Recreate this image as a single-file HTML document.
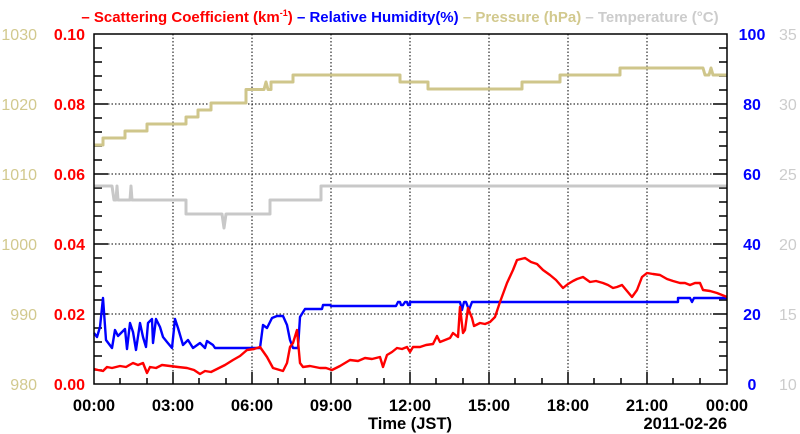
<!DOCTYPE html>
<html><head><meta charset="utf-8"><style>
html,body{margin:0;padding:0;background:#fff;}
svg{display:block;font-family:"Liberation Sans",sans-serif;}
</style></head><body>
<svg width="800" height="434" viewBox="0 0 800 434" xmlns="http://www.w3.org/2000/svg">
<rect width="800" height="434" fill="#fff"/>
<text x="400" y="22" text-anchor="middle" font-size="15" font-weight="bold"><tspan fill="#f00">– Scattering Coefficient (km<tspan font-size="9" dy="-6">-1</tspan><tspan dy="6">) </tspan></tspan><tspan fill="#00f">– Relative Humidity(%) </tspan><tspan fill="#d2c98e">– Pressure (hPa) </tspan><tspan fill="#cccccc">– Temperature (°C)</tspan></text>
<g stroke="#000" stroke-width="1" stroke-dasharray="1.5,2">
<line x1="173" y1="34" x2="173" y2="384"/><line x1="252" y1="34" x2="252" y2="384"/><line x1="331" y1="34" x2="331" y2="384"/><line x1="410" y1="34" x2="410" y2="384"/><line x1="489" y1="34" x2="489" y2="384"/><line x1="568" y1="34" x2="568" y2="384"/><line x1="647" y1="34" x2="647" y2="384"/>
<line x1="94" y1="104" x2="727" y2="104"/><line x1="94" y1="174" x2="727" y2="174"/><line x1="94" y1="244" x2="727" y2="244"/><line x1="94" y1="314" x2="727" y2="314"/>
</g>
<g stroke="#000" stroke-width="1.5" fill="none">
<path d="M94,48h8M94,62h8M94,76h8M94,90h8M94,104h14M94,118h8M94,132h8M94,146h8M94,160h8M94,174h14M94,188h8M94,202h8M94,216h8M94,230h8M94,244h14M94,258h8M94,272h8M94,286h8M94,300h8M94,314h14M94,328h8M94,342h8M94,356h8M94,370h8"/>
<path d="M727,48h-8M727,62h-8M727,76h-8M727,90h-8M727,104h-14M727,118h-8M727,132h-8M727,146h-8M727,160h-8M727,174h-14M727,188h-8M727,202h-8M727,216h-8M727,230h-8M727,244h-14M727,258h-8M727,272h-8M727,286h-8M727,300h-8M727,314h-14M727,328h-8M727,342h-8M727,356h-8M727,370h-8"/>
<path d="M120,384v-6M147,384v-6M173,384v-12M199,384v-6M226,384v-6M252,384v-12M278,384v-6M305,384v-6M331,384v-12M357,384v-6M384,384v-6M410,384v-12M436,384v-6M463,384v-6M489,384v-12M515,384v-6M542,384v-6M568,384v-12M594,384v-6M621,384v-6M647,384v-12M673,384v-6M700,384v-6"/>
</g>
<g fill="none" stroke-width="3" stroke-linejoin="round">
<path stroke="#cfc68b" d="M94,145H103V138H125V131H147V124H186V117H198V110H211V103H246V89.5H264L266,82L268,89.5H271V82H293V75H400V82H428V89H522V82H560V75H620V68H703L705,75H709L711,68L713,75H727"/>
<path stroke="#c8c8c8" d="M94,186H112L114,200H116L117,186L118,200H130L131,186L132,200H186V214H222L224,228L226,214H270V200H321V186H727"/>
<path stroke="#00f" stroke-width="2.4" d="M94,333L97,337L100,327L103,298L106,340L112,348L115,330L118,336L122,332L125,329L127,349L130,323L133,332L136,350L140,323L143,337L146,347L148,323L152,319L153,343L156,319L160,327L163,337L167,342L172,348L175,319L178,328L183,345L188,340L193,348L200,343L205,348L207,341L213,345L215,348H260L263,325L267,328L272,318L277,316H283L287,325L290,340L293,348H298L300,317L305,309H322L323,305H330L331,306H396L398,302H400L401,305H403L405,302H407L408,305H410V302H460L462,310L464,302L466,302L469,310L472,302H678V298H690L692,302L694,298H727"/>
<path stroke="#f00" stroke-width="2.4" d="M94,369L98,370L103,371L107,367L112,368L120,366L126,367L133,363L138,365L143,363L147,373L150,367L156,368L162,365L170,366L178,367L187,368L194,370L200,374L205,371L211,372L217,369L225,365L233,360L240,356L247,350L254,349L260,347L267,357L273,368L283,371L287,363L290,347L293,343L297,330L300,363L303,367L310,366L320,368L326,368L332,370L340,366L350,360L358,361L365,358L372,359L380,357L383,367L387,355L392,352L397,348L402,349L407,347L410,352L413,347L420,347L426,345L433,344L437,336L440,342L445,340L450,338L453,333L458,337L460,307L463,333L465,330L468,308L472,318L474,326L480,323L485,324L490,322L495,317L500,302L507,283L513,270L517,260L525,258L531,262L537,264L543,270L550,275L556,280L563,288L568,284L573,281L577,279L583,277L590,282L596,281L603,283L608,285L613,288L617,287L622,285L627,291L632,297L637,290L642,277L647,273L653,274L660,275L667,279L673,281L680,283L685,283L690,285L695,283L700,283L703,290L710,291L717,293L722,295L727,297"/>
</g>
<rect x="94" y="34" width="633" height="350" fill="none" stroke="#000" stroke-width="1.5"/>
<g font-size="16" font-weight="bold" fill="#f00" text-anchor="end">
<text x="85" y="40">0.10</text><text x="85" y="110">0.08</text><text x="85" y="180">0.06</text><text x="85" y="250">0.04</text><text x="85" y="320">0.02</text><text x="85" y="390">0.00</text>
</g>
<g font-size="16" fill="#d2c98e" text-anchor="end">
<text x="37" y="40">1030</text><text x="37" y="110">1020</text><text x="37" y="180">1010</text><text x="37" y="250">1000</text><text x="37" y="320">990</text><text x="37" y="390">980</text>
</g>
<g font-size="16" font-weight="bold" fill="#00f" text-anchor="middle">
<text x="752" y="40">100</text><text x="752" y="110">80</text><text x="752" y="180">60</text><text x="752" y="250">40</text><text x="752" y="320">20</text><text x="752" y="390">0</text>
</g>
<g font-size="16" fill="#cccccc">
<text x="779" y="40">35</text><text x="779" y="110">30</text><text x="779" y="180">25</text><text x="779" y="250">20</text><text x="779" y="320">15</text><text x="779" y="390">10</text>
</g>
<g font-size="16.5" font-weight="bold" fill="#000" text-anchor="middle">
<text x="94" y="411">00:00</text><text x="173" y="411">03:00</text><text x="252" y="411">06:00</text><text x="331" y="411">09:00</text><text x="410" y="411">12:00</text><text x="489" y="411">15:00</text><text x="568" y="411">18:00</text><text x="647" y="411">21:00</text><text x="727" y="411">00:00</text>
<text x="410" y="429">Time (JST)</text>
<text x="727" y="429" text-anchor="end">2011-02-26</text>
</g>
</svg>
</body></html>
